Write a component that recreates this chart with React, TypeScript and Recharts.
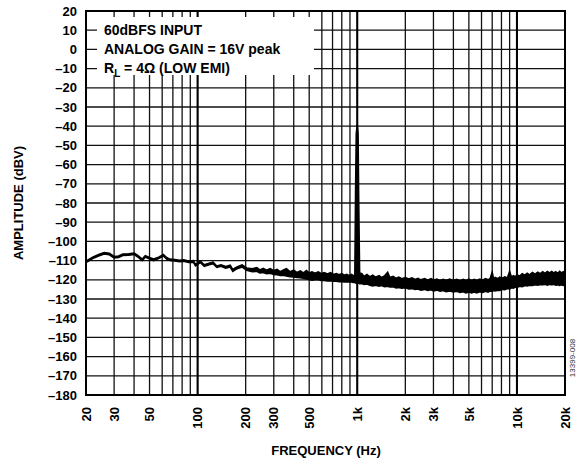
import React from 'react';
import {
  ComposedChart,
  Area,
  XAxis,
  YAxis,
  CartesianGrid,
  ReferenceLine,
  ReferenceArea,
} from 'recharts';

const font = '"Liberation Sans", Arial, Helvetica, sans-serif';

// grid / tick values
const freqTicks = [
  20, 30, 40, 50, 60, 70, 80, 90, 100, 200, 300, 400, 500, 600, 700, 800, 900,
  1000, 2000, 3000, 4000, 5000, 6000, 7000, 8000, 9000, 10000, 20000,
];
const labeledFreqs = [20, 30, 50, 100, 200, 300, 500, 1000, 2000, 3000, 5000, 10000, 20000];
const decadeLines = [100, 1000, 10000];
const dbTicks = [20, 10, 0, -10, -20, -30, -40, -50, -60, -70, -80, -90, -100, -110, -120, -130, -140, -150, -160, -170, -180];

// spectrum: frequency (Hz), top and bottom edge of the trace (dBV)
// 20 Hz .. 200 Hz
const lowFreqs = [
  20, 21, 22, 24, 26, 28, 30, 32, 34, 37,
  40, 42, 45, 47, 50, 53, 57, 61, 64, 67,
  72, 77, 82, 88, 94, 97, 104, 110, 118, 125,
  132, 140, 150, 160, 166, 175, 190, 203,
];
const lowTop = [
  -110.2, -109.2, -108.2, -106.8, -105.8, -106.2, -107.8, -107.6, -106.6, -106.4,
  -106.0, -107.2, -109.2, -107.4, -108.4, -109.2, -108.2, -106.8, -108.4, -109.2,
  -109.4, -109.8, -109.6, -110.2, -110.0, -112.0, -110.2, -112.2, -111.4, -110.8,
  -112.8, -112.2, -113.0, -112.4, -114.6, -113.4, -112.2, -113.8,
];
const lowBottom = [
  -111.0, -110.0, -109.0, -107.6, -106.6, -107.0, -108.6, -108.4, -107.4, -107.2,
  -106.8, -108.0, -110.0, -108.2, -109.2, -110.0, -109.0, -107.6, -109.2, -110.0,
  -110.2, -110.6, -110.4, -111.0, -110.8, -112.8, -111.0, -113.0, -112.2, -111.6,
  -113.6, -113.0, -114.0, -113.4, -115.6, -114.4, -113.4, -115.0,
];

// 200 Hz .. 1 kHz
const midFreqs = [
  220, 235, 245, 258, 270, 285, 300, 315, 330, 345,
  360, 380, 400, 420, 440, 460, 480, 500, 520, 545,
  570, 595, 620, 650, 680, 710, 740, 770, 800, 830,
  860, 890, 920, 945, 965,
];
const midTop = [
  -114.2, -113.6, -114.8, -114.0, -115.0, -114.2, -115.2, -114.6, -115.8, -114.8,
  -114.2, -115.8, -115.0, -116.2, -115.4, -116.4, -115.2, -116.4, -115.8, -116.6,
  -115.8, -116.8, -116.2, -117.0, -116.2, -117.2, -116.8, -117.4, -116.8, -117.6,
  -117.2, -117.8, -117.2, -117.8, -117.6,
];
const midBottom = [
  -115.8, -115.6, -116.4, -116.2, -116.8, -116.6, -117.2, -117.4, -117.8, -117.6,
  -118.0, -118.4, -118.6, -118.8, -119.0, -119.2, -119.6, -119.8, -120.2, -120.0,
  -120.0, -120.4, -120.4, -120.6, -120.6, -120.8, -120.8, -121.0, -121.0, -121.2,
  -121.2, -121.2, -121.2, -121.4, -121.4,
];

// 1 kHz tone
const toneFreqs = [975, 985, 1000, 1012, 1022, 1035];
const toneTop = [-75, -44, -39, -44, -80, -116.5];
const toneBottom = [-121.6, -121.8, -122.0, -121.8, -121.8, -122.0];

// 1 kHz .. 20 kHz
const highFreqs = [
  1070, 1100, 1150, 1200, 1250, 1300, 1370, 1420, 1480, 1550,
  1600, 1680, 1750, 1820, 1900, 2000, 2100, 2200, 2300, 2400,
  2500, 2650, 2750, 2900, 3000, 3150, 3300, 3450, 3600, 3800,
  4000, 4200, 4400, 4600, 4800, 5000, 5200, 5400, 5600, 5850,
  6100, 6350, 6600, 6800, 7000, 7150, 7300, 7600, 7800, 8100,
  8400, 8700, 9000, 9250, 9500, 9750, 10000, 10400, 10800, 11200,
  11600, 12000, 12500, 13000, 13500, 14000, 14500, 15000, 15500, 16000,
  16500, 17000, 17500, 18000, 18500, 19000, 19500, 20000,
];
const highTop = [
  -116.8, -118.2, -117.2, -118.4, -117.6, -118.6, -117.8, -118.8, -118.0, -116.0,
  -118.8, -118.2, -119.2, -118.6, -119.4, -118.8, -119.6, -119.0, -119.8, -119.2,
  -120.0, -119.4, -120.2, -119.4, -120.2, -119.6, -120.4, -119.8, -120.4, -119.6,
  -120.4, -119.8, -120.6, -119.8, -120.4, -119.6, -120.4, -119.8, -120.4, -119.6,
  -120.2, -119.4, -120.0, -119.2, -116.0, -119.6, -118.8, -119.4, -118.6, -119.2,
  -118.4, -119.0, -115.6, -118.6, -117.8, -118.4, -117.4, -118.0, -116.8, -117.6,
  -116.6, -117.4, -116.2, -117.0, -116.0, -116.8, -115.8, -116.6, -115.6, -116.4,
  -115.6, -116.4, -115.8, -116.6, -115.6, -116.4, -115.8, -116.6,
];
const highBottom = [
  -122.0, -122.4, -122.2, -122.8, -123.2, -122.8, -123.4, -123.0, -123.6, -123.4,
  -123.8, -123.6, -124.2, -124.0, -124.4, -124.2, -124.8, -124.6, -125.0, -124.8,
  -125.4, -125.0, -125.6, -125.2, -125.8, -125.4, -126.0, -125.6, -126.2, -125.8,
  -126.4, -126.0, -126.6, -126.2, -126.8, -126.4, -126.8, -126.4, -126.8, -126.2,
  -126.6, -126.0, -126.4, -125.8, -126.0, -125.6, -125.8, -125.4, -125.6, -125.0,
  -125.2, -124.6, -124.8, -124.2, -124.4, -123.8, -124.0, -123.4, -123.6, -123.0,
  -123.2, -122.8, -123.0, -122.6, -122.8, -122.4, -122.6, -122.4, -122.8, -122.4,
  -122.6, -122.4, -122.8, -122.6, -123.0, -122.6, -123.0, -122.8,
];

const freqs = [...lowFreqs, ...midFreqs, ...toneFreqs, ...highFreqs];
const tops = [...lowTop, ...midTop, ...toneTop, ...highTop];
const bottoms = [...lowBottom, ...midBottom, ...toneBottom, ...highBottom];

const data = freqs.map((f, i) => ({ f, band: [bottoms[i], tops[i]] }));

const fmtFreq = (v: number) => (v >= 1000 ? `${v / 1000}k` : `${v}`);
const fmtDb = (v: number) => (v < 0 ? `\u2013${Math.abs(v)}` : `${v}`);

const FreqTick = (props: any) => {
  const { x, y, payload } = props;
  if (!labeledFreqs.includes(payload.value)) return null;
  return (
    <text
      transform={`translate(${x},${y}) rotate(-90)`}
      textAnchor="end"
      dy="0.36em"
      fontFamily={font}
      fontSize={13}
      fontWeight="bold"
      fill="#000"
    >
      {fmtFreq(payload.value)}
    </text>
  );
};

const textStyle: React.CSSProperties = {
  position: 'absolute',
  fontFamily: font,
  fontWeight: 'bold',
  fontSize: 14,
  lineHeight: '14px',
  color: '#000',
  whiteSpace: 'nowrap',
};

export default function App() {
  return (
    <div style={{ position: 'absolute', left: 0, top: 0, width: 581, height: 466, background: '#fff' }}>
      <ComposedChart
        width={581}
        height={466}
        data={data}
        margin={{ top: 11, right: 16, left: 0, bottom: 0 }}
      >
        <CartesianGrid stroke="#111" strokeWidth={1.3} />
        <XAxis
          dataKey="f"
          type="number"
          scale="log"
          domain={[20, 20000]}
          ticks={freqTicks}
          interval={0}
          allowDataOverflow
          height={71}
          axisLine={false}
          tickLine={false}
          tickSize={0}
          tickMargin={12}
          tick={<FreqTick />}
        />
        <YAxis
          type="number"
          domain={[-180, 20]}
          ticks={dbTicks}
          interval={0}
          width={86}
          axisLine={false}
          tickLine={false}
          tickSize={0}
          tickMargin={9}
          tickFormatter={fmtDb}
          tick={{ fill: '#000', fontSize: 13, fontWeight: 'bold', fontFamily: font }}
        />
        {decadeLines.map((f) => (
          <ReferenceLine key={f} x={f} stroke="#000" strokeWidth={2} />
        ))}
        <ReferenceArea x1={20} x2={20000} y1={-180} y2={20} fill="none" stroke="#000" strokeWidth={2} />
        <Area
          dataKey="band"
          type="linear"
          stroke="#000"
          strokeWidth={1.5}
          fill="#000"
          fillOpacity={1}
          dot={false}
          activeDot={false}
          isAnimationActive={false}
        />
      </ComposedChart>

      {/* legend box */}
      <div style={{ position: 'absolute', left: 97, top: 17, width: 217, height: 58, background: '#fff' }} />
      <div style={{ ...textStyle, left: 104, top: 23 }}>60dBFS INPUT</div>
      <div style={{ ...textStyle, left: 104, top: 42 }}>ANALOG GAIN = 16V peak</div>
      <div style={{ ...textStyle, left: 104, top: 61 }}>
        R<sub style={{ fontSize: 10, verticalAlign: 'baseline', position: 'relative', top: 4 }}>L</sub> = 4Ω (LOW EMI)
      </div>

      {/* axis titles */}
      <svg width={581} height={466} style={{ position: 'absolute', left: 0, top: 0, pointerEvents: 'none' }}>
        <text
          transform="translate(18,203) rotate(-90)"
          textAnchor="middle"
          dy="0.36em"
          fontFamily={font}
          fontSize={13}
          fontWeight="bold"
        >
          AMPLITUDE (dBV)
        </text>
        <text x={326} y={450} textAnchor="middle" dy="0.36em" fontFamily={font} fontSize={13} fontWeight="bold">
          FREQUENCY (Hz)
        </text>
        <text
          transform="translate(572,358) rotate(-90)"
          textAnchor="middle"
          dy="0.36em"
          fontFamily={font}
          fontSize={8}
          fill="#333"
        >
          13399-008
        </text>
      </svg>
    </div>
  );
}
